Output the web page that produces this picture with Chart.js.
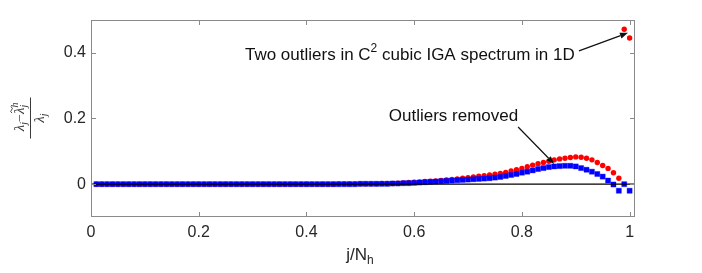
<!DOCTYPE html>
<html>
<head>
<meta charset="utf-8">
<script src="https://cdn.jsdelivr.net/npm/chart.js@4.4.1/dist/chart.umd.min.js"></script>
<style>
  html, body { margin: 0; padding: 0; background: #fff; }
  #wrap { width: 702px; height: 273px; }
</style>
</head>
<body>
<div id="wrap"><canvas id="spectrumChart" width="702" height="273"></canvas></div>
<script>
// ---- data ----
const N_H = 100; // points at j / N_h, j = 1..100

// relative eigenvalue error, C2 cubic IGA (with the two outliers at the end)
const errFull = [
  0, 0, 0, 0, 0, 0, 0, 0, 0, 0,
  0, 0, 0, 0, 0, 0, 0, 0, 0, 0,
  0, 0, 0, 0, 0, 0, 0, 0, 0, 0,
  0, 0, 0, 0, 0, 0, 0, 0, 0, 0,
  0, 0, 0, 0, 0, 0.001, 0.001, 0.001, 0.001, 0.001,
  0.001, 0.001, 0.001, 0.002, 0.002, 0.002, 0.003, 0.004, 0.005, 0.006,
  0.007, 0.008, 0.009, 0.010, 0.011, 0.013, 0.014, 0.016, 0.018, 0.020,
  0.022, 0.024, 0.026, 0.028, 0.030, 0.033, 0.036, 0.040, 0.044, 0.048,
  0.053, 0.058, 0.062, 0.066, 0.070, 0.074, 0.077, 0.079, 0.081, 0.083,
  0.082, 0.079, 0.074, 0.066, 0.057, 0.048, 0.035, 0.018, 0.472, 0.445
];

// same spectrum, outliers removed
const errRemoved = [
  0, 0, 0, 0, 0, 0, 0, 0, 0, 0,
  0, 0, 0, 0, 0, 0, 0, 0, 0, 0,
  0, 0, 0, 0, 0, 0, 0, 0, 0, 0,
  0, 0, 0, 0, 0, 0, 0, 0, 0, 0,
  0, 0, 0, 0, 0, 0, 0, 0, 0, 0.001,
  0.001, 0.001, 0.001, 0.001, 0.001, 0.002, 0.002, 0.003, 0.003, 0.004,
  0.005, 0.006, 0.007, 0.008, 0.009, 0.010, 0.011, 0.012, 0.013, 0.014,
  0.015, 0.016, 0.017, 0.018, 0.020, 0.022, 0.025, 0.028, 0.031, 0.035,
  0.038, 0.042, 0.046, 0.049, 0.052, 0.054, 0.055, 0.056, 0.056, 0.054,
  0.049, 0.044, 0.038, 0.031, 0.023, 0.011, -0.001, -0.020, 0.000, -0.020
];

const X_TICKS = [0, 0.2, 0.4, 0.6, 0.8, 1];
const X_TICK_LABELS = ["0", "0.2", "0.4", "0.6", "0.8", "1"];
const Y_TICKS = [0, 0.2, 0.4];
const Y_TICK_LABELS = ["0", "0.2", "0.4"];

// annotation anchors in data units
const NOTE_OUTLIERS = { x: 0.592, y: 0.378 };
const ARROW_OUTLIERS = { from: [0.906, 0.406], to: [0.997, 0.461] };
const NOTE_REMOVED = { x: 0.673, y: 0.1925 };
const ARROW_REMOVED = { from: [0.793, 0.174], to: [0.860, 0.0615] };

// ---- style ----
const X_MIN = 0, X_MAX = 1.01;
const Y_MIN = -0.1, Y_MAX = 0.5;
const AXIS_COLOR = "#8a8a8a";
const TEXT_COLOR = "#262626";
const FONT = '"Liberation Sans", Arial, Helvetica, sans-serif';
const TICK_LEN = 5;

const toPoints = (arr) => arr.map((v, i) => ({ x: (i + 1) / N_H, y: v }));

// draws a list of text pieces [{t, font, dy, stack}] from x, returns end x
function drawPieces(ctx, pieces, x, y) {
  pieces.forEach((p) => {
    ctx.font = p.font;
    ctx.fillText(p.t, x, y + (p.dy || 0));
    if (!p.stack) x += ctx.measureText(p.t).width;
  });
  return x;
}
function piecesWidth(ctx, pieces) {
  let w = 0;
  pieces.forEach((p) => {
    ctx.font = p.font;
    if (!p.stack) w += ctx.measureText(p.t).width;
  });
  return w;
}

function drawArrow(ctx, x0, y0, x1, y1) {
  const ang = Math.atan2(y1 - y0, x1 - x0);
  const len = 8, half = 3;
  const bx = x1 - len * Math.cos(ang), by = y1 - len * Math.sin(ang);
  ctx.beginPath();
  ctx.moveTo(x0, y0);
  ctx.lineTo(bx, by);
  ctx.stroke();
  ctx.beginPath();
  ctx.moveTo(x1, y1);
  ctx.lineTo(bx + half * Math.sin(ang), by - half * Math.cos(ang));
  ctx.lineTo(bx - half * Math.sin(ang), by + half * Math.cos(ang));
  ctx.closePath();
  ctx.fill();
}

// box + inward ticks (matlab look)
const frameTicksPlugin = {
  id: "frameTicks",
  afterDatasetsDraw(chart) {
    const { ctx, chartArea: a, scales: { x, y } } = chart;
    ctx.save();
    ctx.strokeStyle = AXIS_COLOR;
    ctx.lineWidth = 1;
    ctx.beginPath();
    X_TICKS.forEach((v) => {
      const px = Math.round(x.getPixelForValue(v)) + 0.5;
      ctx.moveTo(px, a.bottom);
      ctx.lineTo(px, a.bottom - TICK_LEN);
      ctx.moveTo(px, a.top);
      ctx.lineTo(px, a.top + TICK_LEN);
    });
    Y_TICKS.forEach((v) => {
      const py = Math.round(y.getPixelForValue(v)) + 0.5;
      ctx.moveTo(a.left, py);
      ctx.lineTo(a.left + TICK_LEN, py);
      ctx.moveTo(a.right, py);
      ctx.lineTo(a.right - TICK_LEN, py);
    });
    ctx.stroke();
    ctx.strokeRect(Math.round(a.left) + 0.5, Math.round(a.top) + 0.5,
      Math.round(a.right - a.left) - 1, Math.round(a.bottom - a.top) - 1);
    ctx.restore();
  },
};

// axis titles and the two notes
const labelsPlugin = {
  id: "labels",
  afterDraw(chart) {
    const { ctx, chartArea: a, scales: { x, y } } = chart;
    ctx.save();
    ctx.fillStyle = TEXT_COLOR;
    ctx.textBaseline = "alphabetic";
    ctx.textAlign = "left";

    // x title: j/N_h
    const xt = [
      { t: "j/N", font: "17px " + FONT },
      { t: "h", font: "12px " + FONT, dy: 4 },
    ];
    const cx = (a.left + a.right) / 2 - 3;
    drawPieces(ctx, xt, cx - piecesWidth(ctx, xt) / 2, 260);

    // y title: (lambda_j - tilde lambda_j^h) / lambda_j, rotated
    ctx.save();
    ctx.translate(30, 118);
    ctx.rotate(-Math.PI / 2);
    ctx.fillStyle = "#3a3a3a";
    const big = 'italic 15px "Liberation Serif", serif';
    const sm = 'italic 10px "Liberation Serif", serif';
    const num = [
      { t: "\u03bb", font: big },
      { t: "j", font: sm, dy: 3 },
      { t: "\u2212", font: '14px "Liberation Serif", serif' },
      { t: "\u03bb", font: big },
      { t: "h", font: sm, dy: -6, stack: true },
      { t: "j", font: sm, dy: 3 },
    ];
    const nw = piecesWidth(ctx, num);
    const endX = drawPieces(ctx, num, -nw / 2, -6);
    // tilde above second lambda
    ctx.font = sm;
    const jW = ctx.measureText("j").width;
    ctx.font = big;
    const lamW = ctx.measureText("\u03bb").width;
    const tx = endX - jW - lamW;
    ctx.strokeStyle = "#3a3a3a";
    ctx.lineWidth = 0.9;
    ctx.beginPath();
    ctx.moveTo(tx + 1, -18);
    ctx.quadraticCurveTo(tx + 2.5, -20.5, tx + 4, -18.5);
    ctx.quadraticCurveTo(tx + 5.5, -16.5, tx + 7.5, -19);
    ctx.stroke();
    // fraction bar
    ctx.lineWidth = 1;
    ctx.beginPath();
    ctx.moveTo(-20.5, 0.5);
    ctx.lineTo(20.5, 0.5);
    ctx.stroke();
    const den = [
      { t: "\u03bb", font: big },
      { t: "j", font: sm, dy: 3 },
    ];
    drawPieces(ctx, den, -piecesWidth(ctx, den) / 2, 14);
    ctx.restore();

    // notes
    ctx.fillStyle = "#111";
    ctx.strokeStyle = "#111";
    ctx.lineWidth = 1.2;
    const n1 = [
      { t: "Two outliers in C", font: "17px " + FONT },
      { t: "2", font: "12px " + FONT, dy: -8 },
      { t: " cubic IGA spectrum in 1D", font: "17px " + FONT },
    ];
    drawPieces(ctx, n1, x.getPixelForValue(NOTE_OUTLIERS.x) - piecesWidth(ctx, n1) / 2,
      y.getPixelForValue(NOTE_OUTLIERS.y));
    drawArrow(ctx,
      x.getPixelForValue(ARROW_OUTLIERS.from[0]), y.getPixelForValue(ARROW_OUTLIERS.from[1]),
      x.getPixelForValue(ARROW_OUTLIERS.to[0]), y.getPixelForValue(ARROW_OUTLIERS.to[1]));

    ctx.font = "17px " + FONT;
    ctx.textAlign = "center";
    ctx.fillText("Outliers removed", x.getPixelForValue(NOTE_REMOVED.x), y.getPixelForValue(NOTE_REMOVED.y));
    drawArrow(ctx,
      x.getPixelForValue(ARROW_REMOVED.from[0]), y.getPixelForValue(ARROW_REMOVED.from[1]),
      x.getPixelForValue(ARROW_REMOVED.to[0]), y.getPixelForValue(ARROW_REMOVED.to[1]));
    ctx.restore();
  },
};

const ctx = document.getElementById("spectrumChart").getContext("2d");
new Chart(ctx, {
  type: "scatter",
  data: {
    datasets: [
      {
        label: "zero",
        data: [{ x: X_MIN, y: 0 }, { x: X_MAX, y: 0 }],
        showLine: true,
        borderColor: "#000",
        borderWidth: 1.3,
        pointRadius: 0,
        order: 0,
      },
      {
        label: "Outliers removed",
        data: toPoints(errRemoved),
        pointStyle: "rect",
        pointRadius: 3.6,
        backgroundColor: "#0000ff",
        borderColor: "rgba(0, 0, 255, 0.35)",
        borderWidth: 1,
        order: 1,
      },
      {
        label: "C2 cubic IGA",
        data: toPoints(errFull),
        pointStyle: "circle",
        pointRadius: 2.7,
        backgroundColor: "#ff0000",
        borderWidth: 0,
        order: 2,
      },
    ],
  },
  plugins: [frameTicksPlugin, labelsPlugin],
  options: {
    responsive: false,
    animation: false,
    events: [],
    layout: { padding: { left: 0, right: 67, top: 20, bottom: 0 } },
    plugins: { legend: { display: false }, tooltip: { enabled: false } },
    scales: {
      x: {
        type: "linear",
        min: X_MIN,
        max: X_MAX,
        grid: { display: false, drawTicks: false },
        border: { display: false },
        afterBuildTicks: (s) => { s.ticks = X_TICKS.map((v) => ({ value: v })); },
        afterFit: (s) => { s.height = 56; },
        ticks: {
          padding: 6,
          color: TEXT_COLOR,
          font: { family: FONT, size: 16 },
          maxRotation: 0,
          callback: (v, i) => X_TICK_LABELS[i],
        },
      },
      y: {
        type: "linear",
        min: Y_MIN,
        max: Y_MAX,
        grid: { display: false, drawTicks: false },
        border: { display: false },
        afterBuildTicks: (s) => { s.ticks = Y_TICKS.map((v) => ({ value: v })); },
        afterFit: (s) => { s.width = 91; },
        ticks: {
          padding: 5,
          color: TEXT_COLOR,
          font: { family: FONT, size: 16 },
          callback: (v, i) => Y_TICK_LABELS[i],
        },
      },
    },
  },
});
</script>
</body>
</html>
